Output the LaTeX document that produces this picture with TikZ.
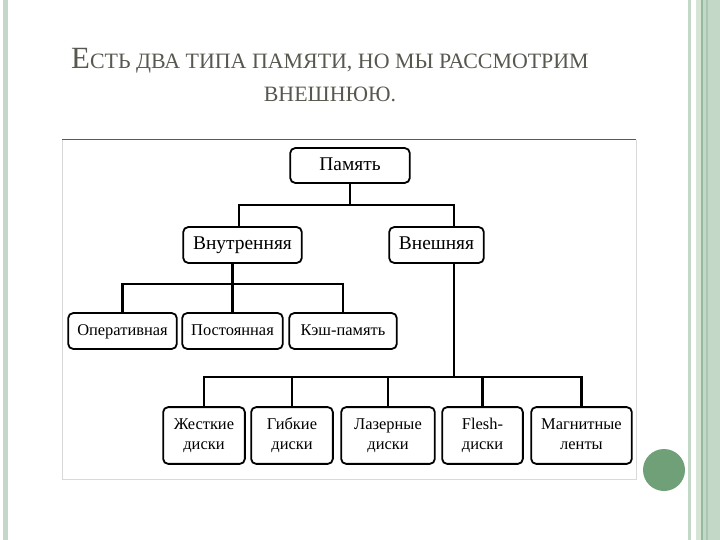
\documentclass[tikz,border=0pt]{standalone}
\usepackage{fontspec}
\setmainfont{Liberation Serif}
\definecolor{stripe}{RGB}{196,216,200}
\definecolor{stripedk}{RGB}{150,186,160}
\definecolor{stripelt}{RGB}{214,228,214}
\definecolor{dotgreen}{RGB}{112,160,120}
\definecolor{titlegray}{RGB}{88,88,80}
\newcommand\fakesc[1]{{\fontsize{22}{34}\selectfont\MakeUppercase{#1}}}
\tikzset{
  box/.style={draw,line width=1.8bp,rounded corners=5bp,inner sep=0pt,
    align=center,text height=14bp,text depth=4bp,
    font=\fontsize{19.5}{21}\selectfont},
  leaf/.style={box,text height=12bp,text depth=3bp,
    font=\fontsize{16.5}{20}\selectfont},
  leaftwo/.style={draw,line width=1.8bp,rounded corners=5bp,inner sep=0pt,
    align=center,font=\fontsize{16.5}{20}\selectfont,
    execute at begin node={\rule{0pt}{19bp}},
    execute at end node={\rule[-2bp]{0pt}{2bp}},
    minimum height=57},
  link/.style={line width=2.4bp}
}
\begin{document}
\begin{tikzpicture}[x=1bp,y=-1bp]
  \useasboundingbox (0,0) rectangle (720,540);
  % slide decoration
  \fill[stripe] (3,0) rectangle (8,540);
  \fill[stripe] (688,0) rectangle (691,540);
  \fill[stripelt] (696,0) rectangle (701,540);
  \fill[stripedk] (701,0) rectangle (703,540);
  \fill[stripe] (703,0) rectangle (720,540);
  \fill[stripedk!60!stripe] (706,0) rectangle (708,540);
  \fill[dotgreen] (664,470) circle (21);

  \node (title) at (330,75) [titlegray,align=center,font=\fontsize{22}{34}\selectfont]
    {{\fontsize{31}{34}\selectfont Е}\fakesc{сть два типа памяти, но мы рассмотрим}\\
     \fakesc{внешнюю.}};

  % picture frame
  \draw[black!15,line width=1bp] (62,140) -- (62,479) -- (636,479) -- (636,140);
  \draw[black!65,line width=1bp] (62,140) -- (636,140);

  \node (mem) at (350,165.5) [box,minimum width=120,minimum height=35]{Память};
  \node (inner) at (242.5,245) [box,minimum width=119,minimum height=36]{Внутренняя};
  \node (outer) at (436.5,245) [box,minimum width=95,minimum height=36]{Внешняя};

  \node (op) at (122.5,331) [leaf,minimum width=109,minimum height=36]{Оперативная};
  \node (post) at (232.5,331) [leaf,minimum width=101,minimum height=36]{Постоянная};
  \node (cache) at (343,331) [leaf,minimum width=108,minimum height=36]{Кэш-память};

  \node (hdd) at (204,435.5) [leaftwo,minimum width=82]{Жесткие\\диски};
  \node (fdd) at (292,435.5) [leaftwo,minimum width=82]{Гибкие\\диски};
  \node (laser) at (388,435.5) [leaftwo,minimum width=94]{Лазерные\\диски};
  \node (flash) at (482.5,435.5) [leaftwo,minimum width=81]{Flesh-\\диски};
  \node (tape) at (581.5,435.5) [leaftwo,minimum width=101]{Магнитные\\ленты};

  \coordinate (j1) at (239,205);
  \coordinate (j2) at (454,205);
  \coordinate (j3) at (233,284);
  \coordinate (j4) at (454,377);

  \draw[link] (mem) -- (mem |- j1);
  \draw[link] (inner.north -| j1) -- (j1) -- (j2) -- (outer.north -| j2);

  \draw[link] (inner.south -| post) -- (post);
  \draw[link] (op) |- (j3) -| (cache);

  \draw[link] (outer.south -| j2) -- (j4);
  \draw[link] (hdd) |- (j4) -| (tape);
  \foreach \n in {fdd,laser,flash}
    \draw[link] (\n) -- (\n |- j4);

\end{tikzpicture}
\end{document}
